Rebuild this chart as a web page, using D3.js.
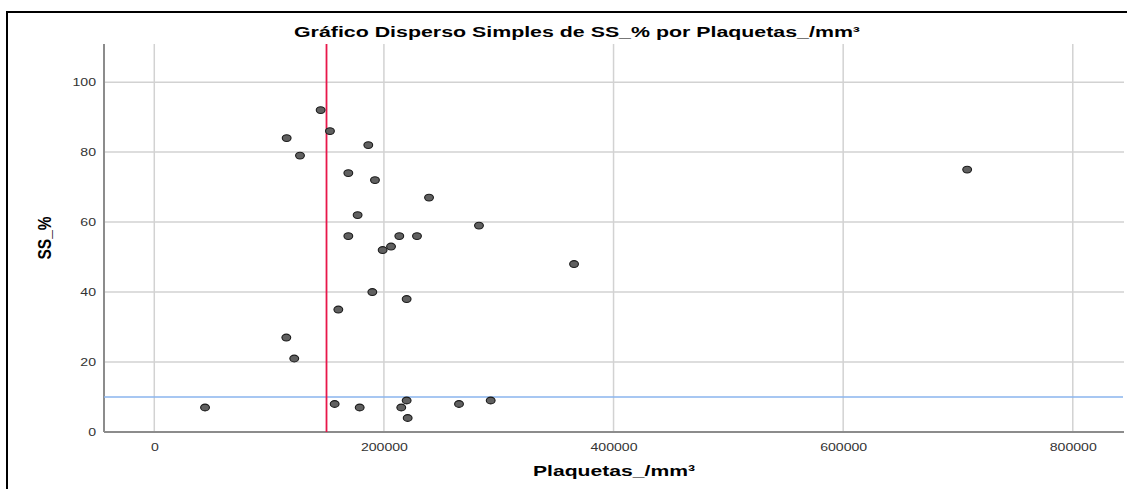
<!DOCTYPE html>
<html>
<head>
  <meta charset="utf-8">
  <style>
    body { margin: 0; background: #fff; }
    text { font-family: "Liberation Sans", Arial, sans-serif; }
    .tick text { fill: #333; font-size: 11px; }
  </style>
</head>
<body>
  <div id="chart"></div>
  <script src="https://cdn.jsdelivr.net/npm/d3@7"></script>
  <script>
    // plaquetas per mm3 and SS_%
    var plaquetas = [144900, 153000, 115300, 126900, 186400, 169000, 192200, 177100, 169000, 213400,
      198900, 206200, 228800, 239300, 282800, 365600, 708000, 189900, 219800, 160300,
      115000, 121900, 44200, 157100, 178900, 219800, 215100, 220700, 265400, 293000];
    var ss = [92, 86, 84, 79, 82, 74, 72, 62, 56, 56,
      52, 53, 56, 67, 59, 48, 75, 40, 38, 35,
      27, 21, 7, 8, 7, 9, 7, 4, 8, 9];
    var xTicks = [0, 200000, 400000, 600000, 800000];
    var yTicks = [0, 20, 40, 60, 80, 100];
    var refX = 150000;
    var refY = 10;

    var width = 1127, height = 489;
    var mLeft = 104, mRight = 1124, mTop = 44, mBottom = 432;

    var svg = d3.select('#chart').append('svg')
      .attr('width', width)
      .attr('height', height);

    var x = d3.scaleLinear().domain([-43800, 844600]).range([mLeft, mRight]);
    var y = d3.scaleLinear().domain([0, 110.9]).range([mBottom, mTop]);

    // stretch text horizontally like the reference
    function widen(sel, k) {
      sel.each(function () {
        var w = this.getComputedTextLength();
        d3.select(this).attr('textLength', w * k).attr('lengthAdjust', 'spacingAndGlyphs');
      });
    }

    // frame
    svg.append('rect')
      .attr('x', 7).attr('y', 12)
      .attr('width', 1130).attr('height', 500)
      .style('fill', 'none')
      .style('stroke', '#000')
      .style('stroke-width', 2);

    // grid
    svg.append('g').selectAll('line')
      .data(xTicks).enter()
      .append('line')
      .attr('x1', d => x(d)).attr('x2', d => x(d))
      .attr('y1', mTop).attr('y2', mBottom)
      .style('stroke', '#d2d2d2').style('stroke-width', 1.5);
    svg.append('g').selectAll('line')
      .data(yTicks.filter(d => d > 0)).enter()
      .append('line')
      .attr('x1', mLeft).attr('x2', mRight)
      .attr('y1', d => y(d)).attr('y2', d => y(d))
      .style('stroke', '#d2d2d2').style('stroke-width', 1.5);

    // axes
    var xAxis = svg.append('g')
      .attr('transform', 'translate(0,' + mBottom + ')')
      .call(d3.axisBottom(x).tickValues(xTicks).tickSize(0).tickPadding(11).tickFormat(d3.format('d')));
    xAxis.select('.domain').remove();
    widen(xAxis.selectAll('.tick text'), 1.28);
    var yAxis = svg.append('g')
      .attr('transform', 'translate(' + mLeft + ',0)')
      .call(d3.axisLeft(y).tickValues(yTicks).tickSize(0).tickPadding(8));
    yAxis.select('.domain').remove();
    widen(yAxis.selectAll('.tick text'), 1.28);

    svg.append('line')
      .attr('x1', mLeft).attr('x2', mRight)
      .attr('y1', mBottom).attr('y2', mBottom)
      .style('stroke', '#8c8c8c').style('stroke-width', 2);
    svg.append('line')
      .attr('x1', mLeft).attr('x2', mLeft)
      .attr('y1', mTop).attr('y2', mBottom)
      .style('stroke', '#8c8c8c').style('stroke-width', 2);

    // reference lines
    svg.append('line')
      .attr('x1', mLeft).attr('x2', mRight - 1)
      .attr('y1', y(refY)).attr('y2', y(refY))
      .style('stroke', '#8ab4ee').style('stroke-width', 1.5);
    svg.append('line')
      .attr('x1', x(refX)).attr('x2', x(refX))
      .attr('y1', mTop).attr('y2', mBottom)
      .style('stroke', '#e8174a').style('stroke-width', 1.8);

    // points
    svg.append('g').selectAll('ellipse')
      .data(plaquetas.map((p, i) => [p, ss[i]])).enter()
      .append('ellipse')
      .attr('cx', d => x(d[0]))
      .attr('cy', d => y(d[1]))
      .attr('rx', 4.4).attr('ry', 3.4)
      .style('fill', '#606060')
      .style('stroke', '#1a1a1a')
      .style('stroke-width', 1.1);

    // labels
    svg.append('text')
      .attr('x', 577).attr('y', 37)
      .attr('text-anchor', 'middle')
      .attr('textLength', 566).attr('lengthAdjust', 'spacingAndGlyphs')
      .style('font-size', '14.5px').style('font-weight', 'bold')
      .text('Gráfico Disperso Simples de SS_% por Plaquetas_/mm³');
    svg.append('text')
      .attr('x', 614).attr('y', 476)
      .attr('text-anchor', 'middle')
      .attr('textLength', 162).attr('lengthAdjust', 'spacingAndGlyphs')
      .style('font-size', '15.5px').style('font-weight', 'bold')
      .text('Plaquetas_/mm³');
    svg.append('text')
      .attr('transform', 'translate(51,238) rotate(-90)')
      .attr('text-anchor', 'middle')
      .attr('textLength', 43).attr('lengthAdjust', 'spacingAndGlyphs')
      .style('font-size', '18px').style('font-weight', 'bold')
      .text('SS_%');
  </script>
</body>
</html>
